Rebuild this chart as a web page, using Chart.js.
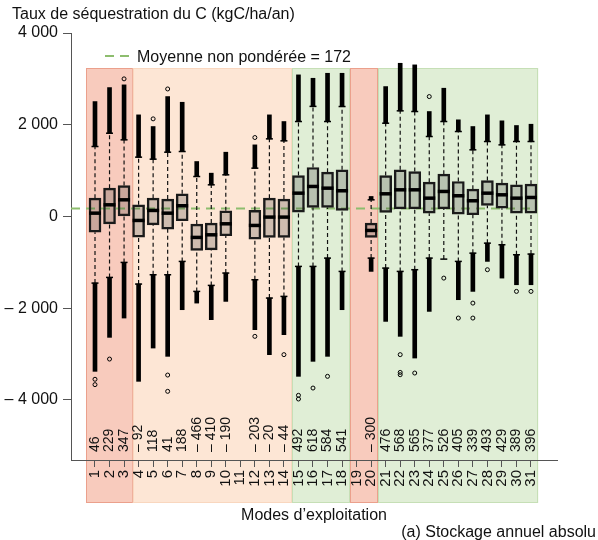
<!DOCTYPE html>
<html lang="fr">
<head>
<meta charset="utf-8">
<title>Taux de séquestration du C</title>
<script src="https://cdn.jsdelivr.net/npm/chart.js@4.4.1/dist/chart.umd.min.js"></script>
<style>
  html, body { margin: 0; padding: 0; background: #fff; }
  #graphe { display: block; }
</style>
</head>
<body>
<canvas id="graphe" width="598" height="540"></canvas>
<script>
// modes d'exploitation (axe x)
const modes = [1,2,3,4,5,6,7,8,9,10,11,12,13,14,15,16,17,18,19,20,21,22,23,24,25,26,27,28,29,30,31];

// quartiles et mediane (kgC/ha/an), null = pas de donnees
const q1 = [-342,-160,0,-450,-182,-276,-94,-741,-727,-421,null,-494,-457,-457,94,196,196,131,null,-457,87,167,167,72,167,50,37,240,181,72,72];
const mediane = [72,254,363,-87,131,72,233,-457,-400,-160,null,-196,-14,-14,508,654,617,560,null,-305,494,581,581,399,545,451,342,508,472,399,414];
const q3 = [399,617,675,254,399,378,494,-167,-145,123,null,131,399,378,893,1068,965,1017,null,-145,893,1017,980,748,922,763,595,784,726,690,704];

// moustaches
const moustacheBas = [-1453,-1329,-1002,-1474,-1271,-1271,-980,-1634,-1503,-1234,null,-1380,-1779,-1743,-1089,-1089,-908,-1198,null,-908,-1126,-1198,-1161,-908,-930,-980,-800,-582,-617,-835,-820];
const moustacheHaut = [1525,1815,1671,1293,1249,1401,1416,871,690,908,null,1053,1692,1649,2070,2400,2070,2397,null,363,2033,2303,2288,1743,2070,1852,1453,1634,1561,1634,1634];

// etendue des valeurs extremes (nuage dense de points)
const extremeBas = [-3377,-2636,-2215,-3595,-2869,-3050,-2033,-1889,-2251,-1852,null,-2469,-3013,-2578,-3486,-3159,-3050,-2033,null,-1198,-2288,-2614,-3087,-2070,null,-1815,-1634,-980,-1344,-1489,-1489];
const extremeHaut = [2505,2810,2869,2215,1961,2614,2490,1198,944,1401,null,1561,2215,2070,3087,3013,3122,3122,null,436,2832,3340,3305,2288,2796,2107,1961,2215,2085,1983,2011];

// points isoles [mode, valeur]
const pointsIsoles = [[1,-3550],[1,-3667],[2,-3109],[3,3000],[5,2128],[6,2780],[6,-3458],[6,-3813],[12,1721],[12,-2614],[14,-3013],[15,-3900],[15,-3980],[16,-3741],[17,-3486],[22,-3013],[22,-3400],[22,-3450],[23,-3414],[24,2614],[25,-1344],[26,-2215],[27,-1889],[27,-2215],[28,-1161],[30,-1634],[31,-1634]];

// moyennes affichees en bas de chaque mode
const moyennes = [46,229,347,-92,118,41,188,-466,-410,-190,null,-203,-20,-44,492,618,584,541,null,-300,476,568,565,377,526,405,339,493,429,389,396];

// moyenne non ponderee
const moyenneGlobale = 172;

// zones colorees (en unites de mode)
const zonesDebut = [0.4, 3.6, 14.55, 18.55, 20.5];
const zonesFin = [3.6, 14.55, 18.55, 20.5, 31.5];
const zonesType = ['rouge', 'orange', 'vert', 'rouge', 'vert'];

const graduationsY = [-4000, -2000, 0, 2000, 4000];

const X_MIN = -0.651, X_MAX = 32.789;
const Y_MIN = -5310, Y_MAX = 4000;

const couleursZones = {
  rouge: { fond: '#f8cbbd', bord: '#eba08c' },
  orange: { fond: '#fde6d5', bord: '#f9d7bf' },
  vert: { fond: '#e0eed6', bord: '#c6dfb6' }
};
const police = '"Liberation Sans", Arial, Helvetica, sans-serif';

function formatNombre(v) {
  if (v === 0) return '0';
  const s = Math.abs(v).toString().replace(/\B(?=(\d{3})+(?!\d))/g, ' ');
  return (v < 0 ? '\u2013 ' : '') + s;
}

// construction des jeux de donnees
let segmentsMoustaches = [], boites = [], medianes = [], capuchons = [], nuageHaut = [], nuageBas = [];
modes.forEach((m, i) => {
  if (mediane[i] === null) return;
  boites.push({ x: m, y: [q1[i], q3[i]] });
  medianes.push({ x: m, y: mediane[i] });
  segmentsMoustaches.push({ x: m, y: moustacheBas[i] }, { x: m, y: q1[i] }, { x: m, y: null });
  segmentsMoustaches.push({ x: m, y: q3[i] }, { x: m, y: moustacheHaut[i] }, { x: m, y: null });
  capuchons.push({ x: m, y: moustacheBas[i] }, { x: m, y: moustacheHaut[i] });
  if (extremeHaut[i] !== null) nuageHaut.push({ x: m, y: [moustacheHaut[i], extremeHaut[i]] });
  if (extremeBas[i] !== null) nuageBas.push({ x: m, y: [extremeBas[i], moustacheBas[i]] });
});
const isoles = pointsIsoles.map(p => ({ x: p[0], y: p[1] }));

const decor = {
  id: 'decor',
  beforeDraw(chart) {
    const ctx = chart.ctx, x = chart.scales.x, a = chart.chartArea;
    ctx.save();
    zonesDebut.forEach((d, i) => {
      const c = couleursZones[zonesType[i]];
      const x0 = x.getPixelForValue(d), x1 = x.getPixelForValue(zonesFin[i]);
      const y0 = a.top + 35, y1 = a.bottom + 43;
      ctx.fillStyle = c.fond;
      ctx.fillRect(x0, y0, x1 - x0, y1 - y0);
      ctx.strokeStyle = c.bord;
      ctx.lineWidth = 1;
      ctx.strokeRect(Math.round(x0) + 0.5, y0 + 0.5, Math.round(x1 - x0) - 1, y1 - y0 - 1);
    });
    ctx.restore();
  },
  afterDraw(chart) {
    const ctx = chart.ctx, x = chart.scales.x, a = chart.chartArea;
    ctx.save();
    ctx.fillStyle = '#111';
    ctx.font = '16px ' + police;
    ctx.textBaseline = 'alphabetic';
    ctx.textAlign = 'left';
    ctx.fillText('Taux de s\u00e9questration du C (kgC/ha/an)', 12, 19);
    // legende
    ctx.strokeStyle = '#8dbd6e';
    ctx.lineWidth = 2;
    ctx.setLineDash([9, 6]);
    ctx.beginPath();
    ctx.moveTo(a.left + 34, a.top + 23);
    ctx.lineTo(a.left + 59, a.top + 23);
    ctx.stroke();
    ctx.setLineDash([]);
    ctx.fillText('Moyenne non pond\u00e9r\u00e9e = ' + moyenneGlobale, a.left + 66, a.top + 29);
    // titres bas
    ctx.textAlign = 'center';
    ctx.fillText('Modes d\u2019exploitation', (a.left + a.right) / 2, 520);
    ctx.textAlign = 'right';
    ctx.fillText('(a) Stockage annuel absolu', 596, 537);
    // moyennes par mode
    ctx.font = '14px ' + police;
    ctx.textAlign = 'left';
    ctx.textBaseline = 'middle';
    modes.forEach((m, i) => {
      if (moyennes[i] === null) return;
      ctx.save();
      ctx.translate(x.getPixelForValue(m), a.bottom - 8);
      ctx.rotate(-Math.PI / 2);
      ctx.fillText(formatNombre(moyennes[i]), 0, 0);
      ctx.restore();
    });
    ctx.restore();
  }
};

new Chart(document.getElementById('graphe'), {
  type: 'bar',
  data: {
    datasets: [
      {
        type: 'line', label: 'Moyenne non pond\u00e9r\u00e9e',
        data: [{ x: X_MIN, y: moyenneGlobale }, { x: modes.length + 0.4, y: moyenneGlobale }],
        borderColor: '#8dbd6e', borderWidth: 2, borderDash: [9, 6], pointRadius: 0, order: 10
      },
      {
        type: 'line', label: 'moustaches', data: segmentsMoustaches,
        borderColor: '#111', borderWidth: 1.2, borderDash: [4, 3], pointRadius: 0, spanGaps: false, order: 8
      },
      {
        type: 'bar', label: 'extremes hauts', data: nuageHaut,
        backgroundColor: '#000', barThickness: 4, grouped: false, order: 7
      },
      {
        type: 'bar', label: 'extremes bas', data: nuageBas,
        backgroundColor: '#000', barThickness: 4, grouped: false, order: 7
      },
      {
        type: 'line', label: 'capuchons', data: capuchons, showLine: false,
        pointStyle: 'line', pointRadius: 3.5, pointBorderWidth: 1.5, pointBorderColor: '#000', order: 6
      },
      {
        type: 'line', label: 'points isoles', data: isoles, showLine: false,
        pointStyle: 'circle', pointRadius: 2, pointBorderWidth: 1, pointBorderColor: '#000',
        pointBackgroundColor: 'rgba(0,0,0,0)', order: 5
      },
      {
        type: 'bar', label: 'boites', data: boites,
        backgroundColor: 'rgba(40,40,40,0.22)', borderColor: '#1a1a1a', borderWidth: 1.8,
        borderSkipped: false, barThickness: 12, grouped: false, order: 3
      },
      {
        type: 'line', label: 'medianes', data: medianes, showLine: false,
        pointStyle: 'line', pointRadius: 6, pointBorderWidth: 3.5, pointBorderColor: '#000', order: 1
      }
    ]
  },
  options: {
    responsive: false,
    animation: false,
    events: [],
    layout: { padding: { top: 33, right: 41, left: 0, bottom: 0 } },
    plugins: { legend: { display: false }, tooltip: { enabled: false }, title: { display: false } },
    scales: {
      x: {
        type: 'linear', min: X_MIN, max: X_MAX, offset: false,
        afterBuildTicks: s => { s.ticks = modes.map(v => ({ value: v })); },
        afterFit: s => { s.height = 80; },
        border: { display: true, color: '#555', width: 1 },
        grid: { display: true, drawOnChartArea: false, drawTicks: true, tickLength: 7, color: '#555', offset: false },
        ticks: {
          autoSkip: false, minRotation: 90, maxRotation: 90, padding: 3, color: '#111',
          font: { family: police, size: 15 },
          callback: v => String(v)
        }
      },
      y: {
        type: 'linear', min: Y_MIN, max: Y_MAX,
        afterBuildTicks: s => { s.ticks = graduationsY.map(v => ({ value: v })); },
        afterFit: s => { s.width = 71; },
        border: { display: true, color: '#555', width: 1 },
        grid: { display: true, drawOnChartArea: false, drawTicks: true, tickLength: 8, color: '#555' },
        ticks: {
          padding: 5, color: '#111', font: { family: police, size: 16 },
          callback: v => formatNombre(v)
        }
      }
    }
  },
  plugins: [decor]
});
</script>
</body>
</html>
